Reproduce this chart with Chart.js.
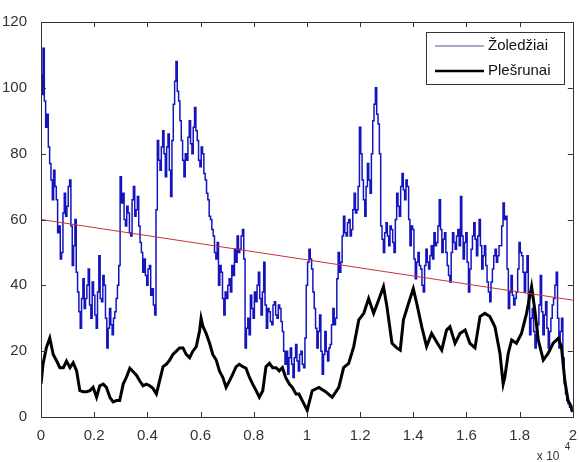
<!DOCTYPE html>
<html>
<head>
<meta charset="utf-8">
<script src="https://cdn.jsdelivr.net/npm/chart.js@4.4.0/dist/chart.umd.min.js"></script>
<style>
  html, body { margin: 0; padding: 0; background: #fff; }
  #wrap { width: 579px; height: 462px; }
</style>
</head>
<body>
<div id="wrap"><canvas id="grafico"></canvas></div>
<script>
// sample index step for the blue series (one value every 50 samples)
const zolStep = 50;
const zoledziai = [
  104, 98, 112, 96, 88, 92, 82, 77, 72, 66, 75, 70, 66, 56, 58, 48, 50, 62, 68, 61,
  64, 70, 72, 58, 46, 52, 60, 44, 38, 32, 27, 36, 42, 33, 36, 40, 45, 34, 30, 41,
  37, 31, 27, 38, 49, 36, 35, 43, 40, 30, 21, 27, 33, 28, 25, 30, 32, 36, 40, 46,
  73, 65, 68, 60, 58, 64, 62, 56, 55, 66, 70, 61, 63, 67, 58, 53, 50, 44, 48, 43,
  40, 45, 46, 37, 39, 34, 31, 63, 84, 78, 75, 82, 87, 80, 73, 82, 86, 75, 67, 84,
  95, 102, 108, 99, 96, 90, 84, 78, 73, 80, 78, 85, 90, 83, 80, 88, 94, 87, 84, 78,
  76, 82, 80, 74, 72, 68, 66, 61, 60, 57, 55, 50, 48, 53, 40, 46, 44, 36, 31, 38,
  36, 40, 42, 38, 46, 43, 51, 47, 55, 50, 51, 55, 57, 48, 21, 27, 30, 25, 37, 33,
  30, 38, 35, 40, 44, 36, 31, 38, 47, 34, 27, 33, 32, 29, 28, 34, 35, 31, 30, 34,
  33, 29, 26, 20, 16, 20, 13, 18, 21, 16, 12, 18, 22, 17, 14, 19, 20, 16, 15, 24,
  40, 47, 51, 48, 45, 38, 33, 27, 21, 26, 31, 20, 13, 19, 26, 20, 17, 21, 22, 28,
  33, 28, 30, 42, 50, 44, 47, 55, 61, 56, 55, 59, 60, 55, 57, 63, 68, 62, 63, 70,
  88, 80, 72, 66, 61, 70, 77, 72, 68, 80, 90, 95, 100, 92, 89, 80, 58, 54, 50, 56,
  59, 55, 52, 58, 57, 53, 50, 60, 68, 64, 61, 70, 74, 69, 66, 72, 70, 60, 52, 58,
  57, 48, 42, 47, 50, 46, 45, 40, 38, 46, 51, 47, 45, 49, 52, 48, 56, 52, 53, 58,
  66, 57, 50, 54, 56, 50, 46, 43, 41, 50, 56, 53, 51, 55, 57, 52, 67, 55, 48, 53,
  56, 47, 38, 45, 51, 55, 59, 54, 49, 55, 60, 52, 45, 49, 52, 46, 41, 38, 35, 41,
  45, 49, 51, 47, 49, 52, 52, 58, 65, 60, 61, 45, 33, 38, 43, 37, 34, 36, 38, 45,
  53, 50, 49, 44, 38, 44, 49, 35, 25, 30, 33, 26, 21, 25, 28, 34, 43, 32, 25, 31,
  35, 27, 21, 26, 30, 34, 36, 40, 44, 30, 21, 26, 30, 18, 10, 7, 5, 4, 3, 2,
  2
];

const plesrunaiX = [
  0, 75, 200, 330, 460, 590, 710, 840, 960, 1090, 1210, 1340, 1460, 1590, 1710, 1840, 1960, 2090, 2210, 2340,
  2460, 2590, 2710, 2840, 2960, 3090, 3210, 3340, 3460, 3590, 3710, 3840, 3960, 4090, 4210, 4340, 4460, 4590, 4710, 4840,
  4960, 5090, 5210, 5340, 5460, 5590, 5710, 5840, 5960, 6020, 6090, 6210, 6340, 6460, 6590, 6710, 6840, 6960, 7090, 7210,
  7340, 7460, 7590, 7710, 7840, 7960, 8090, 8210, 8340, 8460, 8590, 8710, 8840, 8960, 9080, 9200, 9340, 9450, 9590, 9700,
  9950, 10010, 10200, 10450, 10700, 10950, 11200, 11380, 11570, 11760, 11950, 12140, 12320, 12510, 12700, 12880, 13010, 13200, 13380, 13510,
  13630, 13820, 14000, 14130, 14320, 14500, 14690, 14880, 15070, 15250, 15380, 15570, 15760, 15950, 16130, 16320, 16510, 16690, 16880, 17070,
  17260, 17380, 17440, 17570, 17700, 17880, 18070, 18260, 18450, 18570, 18700, 18890, 19070, 19260, 19450, 19570, 19700, 19820, 19950, 20000
];
const plesrunaiY = [
  10, 16, 21, 24, 19, 17, 15, 15, 17, 15, 16.5, 14, 8, 7.7, 7.7, 8, 9, 6, 9.5, 10,
  9, 6, 4.6, 5, 5, 10, 12, 14.8, 13.8, 12.7, 11, 9.5, 10, 9.5, 8.7, 7, 11, 15.3, 16, 17.3,
  19, 20, 21, 21, 19, 18, 20, 21.4, 26, 30, 27.5, 25.4, 22.4, 19, 17.3, 14, 12, 9, 11, 13,
  15.3, 16, 15.3, 14.8, 12, 10, 8, 6, 8, 15.3, 16.3, 15, 15, 14, 15, 12, 10, 9, 7, 7,
  3, 2, 8, 9, 7.7, 6, 9, 15, 16.3, 21.4, 29.5, 31.5, 36, 31.5, 35.6, 39.6, 33.5, 22.4, 21, 20.3,
  29.5, 34.5, 39, 34.5, 27.4, 21.4, 25.4, 22.8, 20.3, 26.4, 27.4, 22.4, 25.4, 26.4, 22.4, 21, 30.5, 31.5, 30.5, 27.4,
  19.3, 10, 12, 19.3, 23.4, 22.4, 25.4, 31.5, 39.6, 32.5, 23.4, 17.3, 19.3, 22.4, 23.9, 21.4, 11, 5, 3, 1.5
];

const trendX = [0, 20000];
const trendY = [60, 35.5];

const xTicks = [0, 2000, 4000, 6000, 8000, 10000, 12000, 14000, 16000, 18000, 20000];
const yTicks = [0, 20, 40, 60, 80, 100, 120];

const fonte = '"Liberation Sans", Arial, sans-serif';

// box, inward ticks, legend and the x 10^4 exponent (MATLAB look)
const estiloMatlab = {
  id: 'estiloMatlab',
  afterDatasetsDraw(chart) {
    const { ctx, chartArea: a, scales } = chart;
    ctx.save();
    ctx.strokeStyle = '#333';
    ctx.lineWidth = 1;
    ctx.beginPath();
    scales.x.ticks.forEach(t => {
      const px = Math.round(scales.x.getPixelForValue(t.value)) + 0.5;
      ctx.moveTo(px, a.bottom); ctx.lineTo(px, a.bottom - 5);
      ctx.moveTo(px, a.top); ctx.lineTo(px, a.top + 5);
    });
    scales.y.ticks.forEach(t => {
      const py = Math.round(scales.y.getPixelForValue(t.value)) + 0.5;
      ctx.moveTo(a.left, py); ctx.lineTo(a.left + 5, py);
      ctx.moveTo(a.right, py); ctx.lineTo(a.right - 5, py);
    });
    ctx.stroke();
    ctx.strokeRect(Math.round(a.left) + 0.5, Math.round(a.top) + 0.5,
      Math.round(a.right - a.left), Math.round(a.bottom - a.top));

    // legend
    const lx = 426, ly = 32, lw = 138, lh = 52;
    ctx.fillStyle = '#fff';
    ctx.fillRect(lx, ly, lw, lh);
    ctx.strokeRect(lx + 0.5, ly + 0.5, lw, lh);
    const itens = chart.data.datasets.filter(d => d.naLegenda);
    ctx.font = '15px ' + fonte;
    ctx.textBaseline = 'middle';
    itens.forEach((d, i) => {
      const y = ly + 14 + i * 25;
      ctx.strokeStyle = d.legendaCor;
      ctx.lineWidth = d.legendaLargura;
      ctx.beginPath();
      ctx.moveTo(lx + 9, y); ctx.lineTo(lx + 58, y);
      ctx.stroke();
      ctx.fillStyle = '#111';
      ctx.fillText(d.label, lx + 62, y);
    });

    // exponent under the x axis
    ctx.fillStyle = '#333';
    ctx.textBaseline = 'alphabetic';
    ctx.font = '12px ' + fonte;
    ctx.fillText('x 10', a.right - 36, 460);
    ctx.font = '10px ' + fonte;
    ctx.fillText('4', a.right - 8, 450);
    ctx.restore();
  }
};

new Chart(document.getElementById('grafico'), {
  type: 'line',
  data: {
    datasets: [
      {
        label: 'Žoledžiai',
        data: zoledziai.map((v, i) => ({ x: i * zolStep, y: v })),
        borderColor: 'rgb(20,20,190)',
        borderWidth: 1.5,
        stepped: 'middle',
        naLegenda: true,
        legendaCor: 'rgb(80,80,150)',
        legendaLargura: 1,
        order: 2
      },
      {
        label: 'Plešrunai',
        data: plesrunaiX.map((x, i) => ({ x: x, y: plesrunaiY[i] })),
        borderColor: '#000',
        borderWidth: 3,
        naLegenda: true,
        legendaCor: '#000',
        legendaLargura: 2.5,
        order: 1
      },
      {
        label: 'trend',
        data: trendX.map((x, i) => ({ x: x, y: trendY[i] })),
        borderColor: 'rgb(200,50,60)',
        borderWidth: 1,
        order: 0
      }
    ]
  },
  options: {
    responsive: true,
    maintainAspectRatio: false,
    animation: false,
    layout: { padding: { top: 22, right: 4, left: 0, bottom: 0 } },
    elements: { point: { radius: 0 }, line: { tension: 0, fill: false } },
    plugins: { legend: { display: false }, tooltip: { enabled: false } },
    scales: {
      x: {
        type: 'linear',
        min: 0, max: 20000,
        grid: { display: false },
        border: { display: false },
        afterBuildTicks: s => { s.ticks = xTicks.map(v => ({ value: v })); },
        afterFit: s => { s.height = 45; },
        ticks: {
          color: '#333',
          padding: 2,
          maxRotation: 0,
          autoSkip: false,
          font: { size: 15, family: fonte },
          callback: v => String(v / 10000)
        }
      },
      y: {
        min: 0, max: 120,
        grid: { display: false },
        border: { display: false },
        afterBuildTicks: s => { s.ticks = yTicks.map(v => ({ value: v })); },
        afterFit: s => { s.width = 41; },
        ticks: {
          color: '#333',
          padding: 6,
          font: { size: 15, family: fonte }
        }
      }
    }
  },
  plugins: [estiloMatlab]
});
</script>
</body>
</html>
